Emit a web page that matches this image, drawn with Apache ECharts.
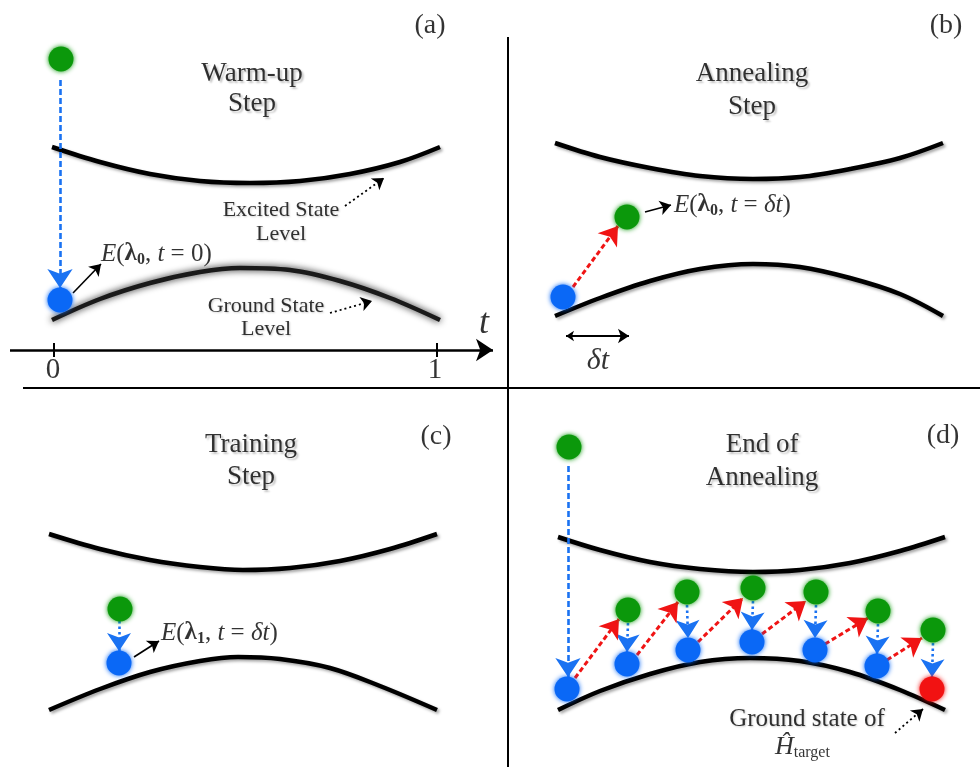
<!DOCTYPE html>
<html><head><meta charset="utf-8">
<script src="https://cdn.jsdelivr.net/npm/echarts@6/dist/echarts.min.js"></script>
<style>html,body{margin:0;padding:0;background:#fff}#c{width:980px;height:767px}</style>
</head><body><div id="c"></div><script>
// ---- energy level curves (diagram coordinates, y downward) ----
const excitedA=[[52,147],[100,162],[150,174],[200,181],[250,183],[300,181],[350,174],[400,162],[440,147]];
const groundA=[[52,320],[100,299],[150,283],[200,272],[240,268],[290,270],[340,281],[390,298],[440,320]];
const excitedB=[[555,143],[600,157],[650,168],[700,176],[753,179],[800,177],[850,169],[900,158],[943,143]];
const groundB=[[555,316],[600,298],[650,281],[700,269],[753,264],[800,267],[850,278],[900,294],[943,316]];
const excitedC=[[49,534],[100,549],[150,560],[200,567],[243,570],[290,568],[340,561],[390,549],[437,534]];
const groundC=[[49,710],[100,689],[150,672],[200,661],[238,657],[280,659],[330,668],[380,686],[437,710]];
const excitedD=[[558,537],[600,550],[650,562],[700,569],[753,572],[800,570],[850,563],[900,551],[945,537]];
const groundD=[[558,710],[600,691],[650,674],[700,662],[750,658],[800,661],[850,672],[900,690],[945,710]];
// ---- states (dots) ----
const greenDots=[[61,59],[627,217],[120,609],[569,447],[628,610],[687,592],[753,588],[816,592],[878,611],[933,630]];
const blueDots=[[60,300],[563,297],[119,663],[567,689],[627,664],[688,650],[752,642],[815,650],[877,666]];
const redDots=[[932,689]];
// ---- arrows [from, to] ----
const blueDashedArrows=[[[60,80],[60,288]],[[568,466],[568,677]]];
const blueDottedArrows=[[[119,621],[119,651]],[[628,623],[627,652]],[[687,605],[688,638]],[[753,601],[752,630]],[[816,605],[815,638]],[[878,624],[877,654]],[[933,643],[932,677]]];
const redDashedArrows=[[[573,287],[618,226]],[[575,678],[619,619]],[[637,655],[678,602]],[[698,642],[743,598]],[[762,634],[806,601]],[[825,644],[868,618]],[[887,660],[922,638]]];
const blackArrows=[[[73,293],[101,264]],[[645,212],[671,205]],[[134,657],[159,641]]];
const blackDottedArrows=[[[345,206],[384,178]],[[330,313],[372,301]],[[895,733],[923,709]]];
const deltaSpan=[[[566,336],[629,336]]];
const timeAxis=[[[10,350],[493,350]]];
const timeTicks=[[[54,343],[54,357]],[[437,343],[437,357]]];
const dividers=[[[508,37],[508,767]],[[23,388],[980,388]]];
// ---- texts [text, x, y] ----
const titleTexts=[['Warm-up',252,74],['Step',252,104],['Annealing',752,74],['Step',752,107],['Training',251,445],['Step',251,477],['End of',762,445],['Annealing',762,478]];
const panelTags=[['(a)',430,26],['(b)',946,26],['(c)',436,437],['(d)',943,436]];
const noteTexts=[['Excited State',281,210],['Level',281,234],['Ground State',266,306],['Level',266,329]];
const noteTextsLarge=[['Ground state of',807,719]];
const tickLabels=[['0',53,370],['1',435,370]];
const mathLabels=[
  ['{it|E}{rm|(}{bf|λ}{sub|0}{rm|, }{it|t}{rm| = 0)}',101,254],
  ['{it|E}{rm|(}{bf|λ}{sub|0}{rm|, }{it|t}{rm| = }{it|δt}{rm|)}',674,205],
  ['{it|E}{rm|(}{bf|λ}{sub|1}{rm|, }{it|t}{rm| = }{it|δt}{rm|)}',161,633]
];
const hatLabel=[['{it|Ĥ}{sub2|target}',775,747]];
const italicBig=[['t',484,324,36],['δt',598,361,30]];

const SERIF='"Liberation Serif","DejaVu Serif",serif';
const curveStyle={color:'#000',width:4.5,shadowColor:'rgba(0,0,0,0.35)',shadowBlur:3,shadowOffsetX:2,shadowOffsetY:2};
function curve(d,extra){return {type:'line',data:d,smooth:0.35,showSymbol:false,symbol:'none',silent:true,z:2,lineStyle:Object.assign({},curveStyle,extra||{})};}
function arrows(list,color,width,dash,size,symbols,z){
  return {type:'lines',coordinateSystem:'cartesian2d',silent:true,z:z||4,
    symbol:symbols||['none','arrow'],symbolSize:size,
    lineStyle:{color:color,width:width,type:dash,opacity:1},
    data:list.map(c=>({coords:c}))};
}
function dots(d,color){return {type:'scatter',data:d,symbolSize:25,silent:true,z:5,
  itemStyle:{color:color,shadowBlur:5,shadowColor:color,opacity:1}};}
function texts(list,lab,pos){return {type:'scatter',symbolSize:0,silent:true,z:6,
  data:list.map(t=>({value:[t[1],t[2]],name:t[0]})),
  label:Object.assign({show:true,position:pos||'inside',distance:0,formatter:'{b}',color:'#000',fontFamily:SERIF},lab)};}
const shadowTxt={textShadowColor:'rgba(0,0,0,0.3)',textShadowBlur:2,textShadowOffsetX:2,textShadowOffsetY:2};
const shadowSm={textShadowColor:'rgba(0,0,0,0.25)',textShadowBlur:2,textShadowOffsetX:1,textShadowOffsetY:1};
const mathRich={
  it:{fontFamily:SERIF,fontStyle:'italic',fontSize:25,color:'#000',lineHeight:28},
  rm:{fontFamily:SERIF,fontSize:25,color:'#000',lineHeight:28},
  bf:{fontFamily:SERIF,fontWeight:'bold',fontSize:25,color:'#000',lineHeight:28},
  sub:{fontFamily:SERIF,fontWeight:'bold',fontSize:16,color:'#000',lineHeight:17,verticalAlign:'bottom'},
  sub2:{fontFamily:SERIF,fontSize:16,color:'#000',lineHeight:17,verticalAlign:'bottom'}
};

const series=[
  curve(excitedA), curve(groundA,{color:'#1a1a1a',shadowColor:'rgba(0,0,0,0.9)',shadowBlur:7,shadowOffsetX:0,shadowOffsetY:0}),
  curve(excitedB), curve(groundB), curve(excitedC), curve(groundC), curve(excitedD), curve(groundD),
  arrows(dividers,'#000',2,'solid',0,['none','none'],1),
  arrows(timeAxis,'#000',2.5,'solid',[11,17]),
  arrows(timeTicks,'#000',2,'solid',0,['none','none']),
  arrows(deltaSpan,'#000',1.8,'solid',[8,11],['arrow','arrow']),
  arrows(blueDashedArrows,'#1a72f2',2.6,[6,3],[12,19]),
  arrows(blueDottedArrows,'#1a72f2',2.6,[2.5,3],[12,18]),
  arrows(redDashedArrows,'#f01414',3,[5,3],[12,18]),
  arrows(blackArrows,'#000',1.6,'solid',[8,11]),
  arrows(blackDottedArrows,'#000',1.8,[2,3],[8,11]),
  dots(greenDots,'#0b980b'), dots(blueDots,'#0a68f6'), dots(redDots,'#f21212'),
  texts(titleTexts,Object.assign({fontSize:27},shadowTxt)),
  texts(panelTags,{fontSize:28}),
  texts(noteTexts,Object.assign({fontSize:22},shadowSm)),
  texts(noteTextsLarge,Object.assign({fontSize:25},shadowSm)),
  texts(tickLabels,{fontSize:29}),
  texts(mathLabels,{rich:mathRich},'right'),
  texts(hatLabel,{rich:Object.assign({},mathRich,{it:Object.assign({},mathRich.it,{fontSize:26})})},'right'),
  {type:'scatter',symbolSize:0,silent:true,z:6,
   data:italicBig.map(t=>({value:[t[1],t[2]],name:t[0],label:{fontSize:t[3]}})),
   label:{show:true,position:'inside',formatter:'{b}',color:'#000',fontFamily:SERIF,fontStyle:'italic'}}
];

const chart=echarts.init(document.getElementById('c'),null,{renderer:'canvas'});
chart.setOption({
  animation:false,
  backgroundColor:'#fff',
  grid:{left:0,right:0,top:0,bottom:0},
  xAxis:{type:'value',min:0,max:980,show:false},
  yAxis:{type:'value',min:0,max:767,inverse:true,show:false},
  series:series
});
</script></body></html>
